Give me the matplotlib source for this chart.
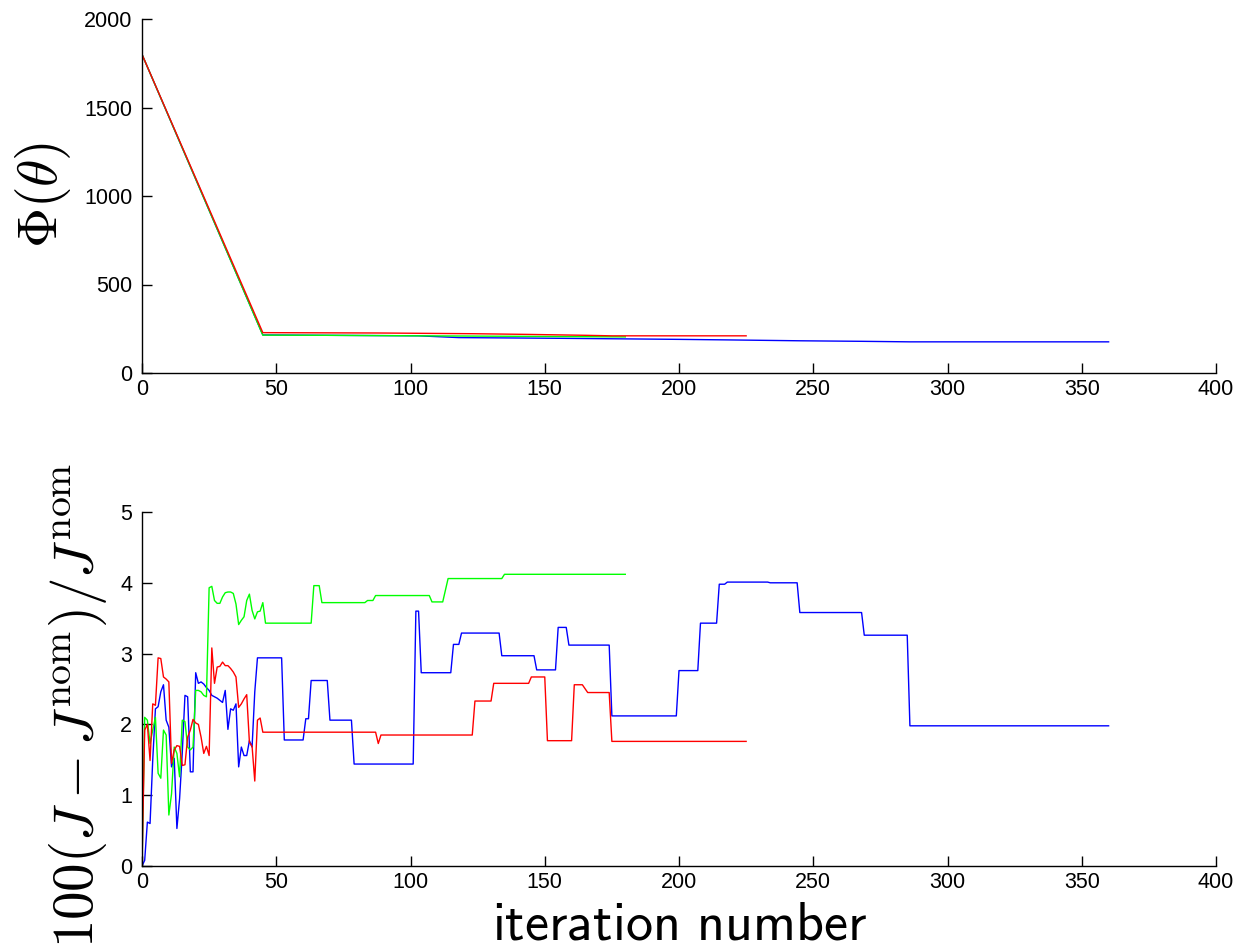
import numpy as np
import matplotlib
matplotlib.use("Agg")
import matplotlib.pyplot as plt

plt.rcParams['mathtext.fontset'] = 'cm'
plt.rcParams['font.family'] = ['Liberation Sans', 'DejaVu Sans']

# ---- top panel: cost Phi(theta) per iteration (breakpoints) ----
phi_blue_it = [0, 45, 103, 118, 156, 200, 218, 245, 268, 286, 360]
phi_blue = [1800, 215, 210, 200, 196, 190, 187, 182, 179, 176, 176]
phi_green_it = [0, 45, 68, 180]
phi_green = [1800, 214, 213, 204]
phi_red_it = [0, 45, 88, 123, 144, 165, 175, 225]
phi_red = [1800, 228, 226, 222, 218, 213, 210, 210]

# ---- bottom panel: 100(J - Jnom)/Jnom per iteration (breakpoints) ----
j_blue_it = [0, 1, 2, 3, 4, 5, 6, 7, 8, 9, 10, 11, 12, 13, 14, 15, 16, 17, 18, 19,
             20, 21, 22, 23, 24, 25, 26, 27, 28, 29, 30, 31, 32, 33, 34, 35, 36, 37,
             38, 39, 40, 41, 42, 43, 52, 53, 60, 61, 62, 63, 69, 70, 78, 79, 101, 102,
             103, 104, 115, 116, 118, 119, 133, 134, 146, 147, 154, 155, 158, 159, 174,
             175, 199, 200, 207, 208, 214, 215, 217, 218, 233, 234, 244, 245, 268, 269,
             285, 286, 360]
j_blue = [0.0, 0.08, 0.62, 0.6, 1.5, 2.22, 2.25, 2.46, 2.56, 2.06, 1.96, 1.4, 1.52, 0.53,
          0.95, 1.6, 2.41, 2.39, 1.33, 1.33, 2.73, 2.58, 2.6, 2.57, 2.52, 2.48, 2.41, 2.39,
          2.37, 2.34, 2.31, 2.48, 1.93, 2.22, 2.2, 2.29, 1.4, 1.68, 1.56, 1.56, 1.77, 1.68,
          2.46, 2.94, 2.94, 1.78, 1.78, 2.08, 2.08, 2.62, 2.62, 2.06, 2.06, 1.44, 1.44, 3.6,
          3.6, 2.73, 2.73, 3.13, 3.13, 3.29, 3.29, 2.97, 2.97, 2.77, 2.77, 3.37, 3.37, 3.12,
          3.12, 2.12, 2.12, 2.76, 2.76, 3.43, 3.43, 3.98, 3.98, 4.01, 4.01, 4.0, 4.0, 3.58,
          3.58, 3.26, 3.26, 1.98, 1.98]

j_green_it = [0, 1, 2, 3, 4, 5, 6, 7, 8, 9, 10, 11, 12, 13, 14, 15, 16, 17, 18, 19,
              20, 21, 22, 23, 24, 25, 26, 27, 28, 29, 30, 31, 32, 33, 34, 35, 36, 37,
              38, 39, 40, 41, 42, 43, 44, 45, 46, 63, 64, 66, 67, 83, 84, 86, 87, 107,
              108, 112, 114, 134, 135, 180]
j_green = [0.0, 2.1, 2.06, 1.73, 1.92, 2.1, 1.31, 1.24, 1.92, 1.85, 0.72, 1.02, 1.68,
           1.59, 1.26, 2.06, 2.04, 1.68, 1.64, 1.68, 2.48, 2.48, 2.46, 2.41, 2.39, 3.93,
           3.95, 3.75, 3.71, 3.71, 3.8, 3.86, 3.87, 3.87, 3.85, 3.7, 3.41, 3.47, 3.52,
           3.75, 3.84, 3.61, 3.49, 3.59, 3.6, 3.72, 3.43, 3.43, 3.96, 3.96, 3.72, 3.72,
           3.75, 3.75, 3.82, 3.82, 3.73, 3.73, 4.06, 4.06, 4.12, 4.12]

j_red_it = [0, 1, 2, 3, 4, 5, 6, 7, 8, 9, 10, 11, 12, 13, 14, 15, 16, 17, 18, 19,
            20, 21, 22, 23, 24, 25, 26, 27, 28, 29, 30, 31, 32, 33, 34, 35, 36, 37,
            38, 39, 40, 41, 42, 43, 44, 45, 87, 88, 89, 123, 124, 130, 131, 144, 145,
            150, 151, 160, 161, 164, 166, 174, 175, 225]
j_red = [0.0, 1.92, 2.0, 1.49, 2.29, 2.27, 2.94, 2.93, 2.67, 2.64, 2.6, 1.45, 1.64,
         1.7, 1.69, 1.42, 1.43, 1.82, 1.92, 2.07, 2.02, 2.0, 1.82, 1.59, 1.69, 1.56,
         3.08, 2.58, 2.81, 2.82, 2.88, 2.83, 2.83, 2.79, 2.74, 2.67, 2.24, 2.29, 2.36,
         2.42, 1.75, 1.69, 1.2, 2.06, 2.09, 1.89, 1.89, 1.73, 1.85, 1.85, 2.33, 2.33,
         2.58, 2.58, 2.67, 2.67, 1.77, 1.77, 2.56, 2.56, 2.45, 2.45, 1.76, 1.76]

xticks = [0, 50, 100, 150, 200, 250, 300, 350, 400]
phi_ticks = [0, 500, 1000, 1500, 2000]
j_ticks = [0, 1, 2, 3, 4, 5]


def style_axes(ax):
    ax.spines['top'].set_visible(False)
    ax.spines['right'].set_visible(False)
    for s in ('left', 'bottom'):
        ax.spines[s].set_linewidth(1.0)
    ax.tick_params(direction='in', length=7, width=1.0, labelsize=15.5)
    ax.tick_params(axis='y', pad=7)
    ax.tick_params(axis='x', pad=4)
    ax.set_xlim(0, 400)
    ax.set_xticks(xticks)


fig = plt.figure(figsize=(12.4, 9.49), dpi=100)
ax1 = fig.add_axes([142 / 1240, 1 - 373 / 949, 1074 / 1240, 354 / 949])
ax2 = fig.add_axes([142 / 1240, 1 - 866 / 949, 1074 / 1240, 354 / 949])

lw = 1.0
ax1.plot(phi_blue_it, phi_blue, color='#0000ff', lw=lw)
ax1.plot(phi_green_it, phi_green, color='#00ff00', lw=lw)
ax1.plot(phi_red_it, phi_red, color='#ff0000', lw=lw)
ax1.set_ylim(0, 2000)
ax1.set_yticks(phi_ticks)
style_axes(ax1)

ax2.plot(j_blue_it, j_blue, color='#0000ff', lw=lw)
ax2.plot(j_green_it, j_green, color='#00ff00', lw=lw)
ax2.plot(j_red_it, j_red, color='#ff0000', lw=lw)
ax2.set_ylim(0, 5)
ax2.set_yticks(j_ticks)
style_axes(ax2)

fig.text(43 / 1240, 1 - 195 / 949, r'$\Phi(\theta)$', rotation=90,
         ha='center', va='center', fontsize=40)
fig.text(78 / 1240, 1 - 705 / 949, r'$100(J-J^{\mathrm{nom}})/J^{\mathrm{nom}}$',
         rotation=90, ha='center', va='center', fontsize=41)
fig.text(679 / 1240, 1 - 925 / 949, r'$\mathsf{iteration\ number}$',
         ha='center', va='center', fontsize=39)

fig.savefig('out.png', dpi=100)
